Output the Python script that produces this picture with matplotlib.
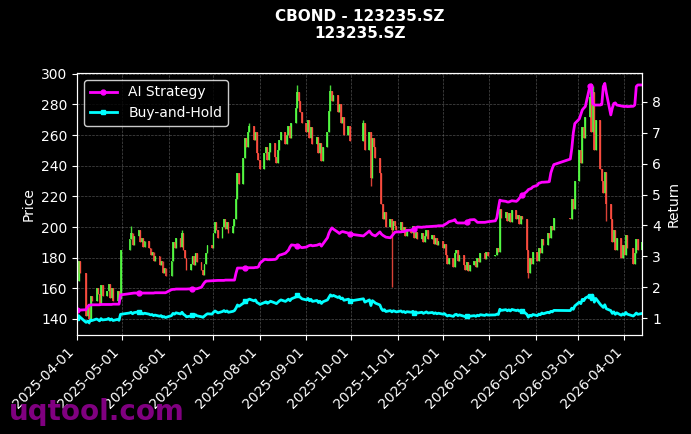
import numpy as np
import pandas as pd
import matplotlib
matplotlib.use('Agg')
import matplotlib.pyplot as plt
import matplotlib.dates as mdates

# exchange holidays (no candles on these days)
holidays = ['2025-04-04', '2025-05-01', '2025-05-02', '2025-05-05', '2025-06-02',
            '2025-10-01', '2025-10-02', '2025-10-03', '2025-10-06', '2025-10-07', '2025-10-08',
            '2026-01-01', '2026-01-02', '2026-02-16', '2026-02-17', '2026-02-18',
            '2026-02-19', '2026-02-20', '2026-02-23', '2026-04-06']
dates = pd.bdate_range('2025-04-01', '2026-04-13').difference(pd.to_datetime(holidays))

# daily closes, month by month
close_2504 = [165, 178, 170, 142, 148, 140, 155, 152, 160, 156, 150, 162, 155, 158, 163, 154, 160, 152, 158, 153, 185]
close_2505 = [192, 196, 188, 194, 198, 190, 193, 187, 191, 186, 182, 184, 178, 181, 175, 178, 170, 173, 168]
close_2506 = [178, 190, 186, 193, 187, 196, 185, 180, 172, 176, 181, 175, 183, 177, 172, 169, 176, 183, 188, 186]
close_2507 = [196, 203, 198, 193, 200, 205, 199, 203, 196, 201, 205, 218, 235, 228, 245, 258, 252, 262, 266, 257,
              262, 248, 244]
close_2508 = [238, 248, 252, 244, 249, 255, 246, 242, 250, 257, 262, 254, 260, 266, 258, 268, 278, 288, 282, 275, 268]
close_2509 = [262, 270, 258, 265, 254, 259, 248, 255, 243, 252, 262, 276, 289, 282, 286, 275, 280, 268, 272, 260,
              266, 256]
close_2510 = [268, 250, 262, 232, 258, 252, 245, 235, 215, 205, 210, 200, 205, 198, 204, 201, 198]
close_2511 = [203, 197, 200, 194, 199, 196, 201, 193, 197, 192, 196, 190, 194, 198, 192, 195, 189, 193, 188, 191]
close_2512 = [186, 189, 182, 176, 180, 174, 183, 185, 178, 182, 175, 172, 177, 171, 175, 178, 174, 180, 177, 183,
              179, 184, 181]
close_2601 = [182, 186, 184, 212, 206, 210, 204, 209, 203, 211, 205, 208, 202, 207, 205, 185, 170, 180, 176, 184]
close_2602 = [178, 186, 183, 192, 188, 196, 193, 201, 198, 206, 205, 218, 212, 230]
close_2603 = [250, 242, 265, 258, 272, 285, 262, 288, 250, 270, 238, 230, 222, 236, 215, 205, 190, 198, 185, 193,
              180, 188]
close_2604 = [182, 195, 186, 176, 183, 192, 185, 190]
first_open = 178

wick_high = {'2025-08-26': 293, '2025-09-17': 293, '2025-07-25': 268, '2026-03-11': 292, '2026-03-09': 290,
             '2025-05-07': 201, '2025-06-10': 198, '2025-10-09': 270}
wick_low = {'2025-10-28': 161, '2026-01-27': 167, '2026-03-20': 204, '2025-04-09': 137, '2025-10-14': 227}

# AI strategy cumulative return
ai_2504 = [1.26, 1.27, 1.26, 1.27, 1.36, 1.42, 1.42, 1.43, 1.43, 1.43, 1.43, 1.44, 1.44, 1.44, 1.44, 1.44, 1.44,
           1.45, 1.45, 1.45, 1.75]
ai_2505 = [1.79, 1.80, 1.80, 1.81, 1.81, 1.81, 1.81, 1.81, 1.81, 1.81, 1.81, 1.81, 1.81, 1.82, 1.82, 1.82, 1.82,
           1.82, 1.82]
ai_2506 = [1.92, 1.93, 1.93, 1.94, 1.94, 1.94, 1.94, 1.94, 1.94, 1.95, 1.95, 1.95, 1.95, 1.95, 2.00, 2.08, 2.15,
           2.20, 2.20, 2.21]
ai_2507 = [2.21, 2.22, 2.22, 2.22, 2.22, 2.22, 2.23, 2.23, 2.23, 2.23, 2.23, 2.45, 2.62, 2.62, 2.62, 2.63, 2.63,
           2.63, 2.63, 2.63, 2.64, 2.64, 2.66]
ai_2508 = [2.78, 2.90, 2.90, 2.89, 2.89, 2.89, 2.90, 2.92, 3.00, 3.04, 3.05, 3.10, 3.15, 3.20, 3.30, 3.37, 3.35,
           3.32, 3.34, 3.30, 3.28]
ai_2509 = [3.30, 3.33, 3.35, 3.36, 3.34, 3.36, 3.38, 3.40, 3.33, 3.40, 3.60, 3.75, 3.85, 3.92, 3.88, 3.78, 3.74,
           3.78, 3.80, 3.79, 3.75, 3.72]
ai_2510 = [3.66, 3.70, 3.82, 3.75, 3.70, 3.68, 3.66, 3.79, 3.72, 3.68, 3.65, 3.62, 3.60, 3.66, 3.72, 3.78, 3.79]
ai_2511 = [3.79, 3.80, 3.80, 3.82, 3.84, 3.85, 3.86, 3.88, 3.92, 3.95, 3.94, 3.95, 3.95, 3.96, 3.96, 3.97, 3.97,
           3.98, 3.98, 3.99]
ai_2512 = [3.99, 4.02, 4.05, 4.08, 4.12, 4.16, 4.19, 4.10, 4.08, 4.08, 4.08, 4.08, 4.10, 4.15, 4.18, 4.19, 4.15,
           4.10, 4.10, 4.10, 4.10, 4.11, 4.12]
ai_2601 = [4.15, 4.25, 4.55, 4.82, 4.80, 4.78, 4.76, 4.76, 4.78, 4.80, 4.78, 4.82, 4.88, 4.95, 4.98, 5.10, 5.16,
           5.18, 5.20, 5.25]
ai_2602 = [5.30, 5.37, 5.38, 5.40, 5.40, 5.41, 5.42, 5.70, 5.85, 5.97, 6.15, 6.50, 7.00, 7.30]
ai_2603 = [7.45, 7.60, 7.74, 7.80, 7.85, 8.50, 8.55, 7.95, 7.90, 7.90, 7.90, 7.92, 8.50, 8.60, 8.30, 7.58, 7.80,
           7.95, 7.97, 7.90, 7.87, 7.86]
ai_2604 = [7.85, 7.86, 7.85, 7.86, 7.90, 8.50, 8.55, 8.55]

close = np.array(close_2504 + close_2505 + close_2506 + close_2507 + close_2508 + close_2509 + close_2510
                 + close_2511 + close_2512 + close_2601 + close_2602 + close_2603 + close_2604, dtype=float)
ai_return = np.array(ai_2504 + ai_2505 + ai_2506 + ai_2507 + ai_2508 + ai_2509 + ai_2510 + ai_2511
                     + ai_2512 + ai_2601 + ai_2602 + ai_2603 + ai_2604)

opens = np.r_[first_open, close[:-1]]
highs = np.maximum(opens, close)
lows = np.minimum(opens, close)
for d, v in wick_high.items():
    highs[dates.get_loc(pd.Timestamp(d))] = v
for d, v in wick_low.items():
    lows[dates.get_loc(pd.Timestamp(d))] = v

bh_return = close / close[0]

fig = plt.figure(figsize=(6.91, 4.34), dpi=100, facecolor='black')
ax = fig.add_axes([0.1115, 0.228, 0.818, 0.604])
ax.set_facecolor('black')

# candles
up = close >= opens
col = np.where(up, '#55ff44', '#ff4d40')
ax.vlines(dates, lows, highs, colors=col, linewidth=1.0, alpha=0.85)
body = np.maximum(np.abs(close - opens), 0.4)
ax.bar(dates, body, bottom=np.minimum(opens, close), width=1.3, color=col, alpha=0.85)

ax.set_ylim(129.5, 300.6)
ax.set_xlim(dates[0], dates[-1])
ax.set_ylabel('Price', color='white', fontsize=10)
ax.grid(True, color='gray', linestyle='--', linewidth=0.5, alpha=0.6)
ax.set_axisbelow(True)

ax2 = ax.twinx()
ax2.plot(dates, ai_return, color='magenta', linewidth=2, marker='o', markersize=3.5, markevery=25,
         label='AI Strategy')
ax2.plot(dates, bh_return, color='cyan', linewidth=2, marker='s', markersize=3.5, markevery=25,
         label='Buy-and-Hold')
ax2.set_ylim(0.45, 8.94)
ax2.set_ylabel('Return', color='white', fontsize=10)

ax.xaxis.set_major_locator(mdates.MonthLocator())
ax.xaxis.set_major_formatter(mdates.DateFormatter('%Y-%m-%d'))
plt.setp(ax.get_xticklabels(), rotation=45, ha='right')

for a in (ax, ax2):
    a.tick_params(colors='white', labelsize=10)
    for s in a.spines.values():
        s.set_color('white')

leg = ax2.legend(loc='upper left', facecolor='black', edgecolor='white', labelcolor='white', fontsize=10)

ax.set_title('CBOND - 123235.SZ\n123235.SZ', color='white', fontsize=11, fontweight='bold', pad=25)

fig.text(0.013, 0.033, 'uqtool.com', fontsize=20, fontweight='bold', color='purple', va='baseline')

fig.savefig('out.png', dpi=100, facecolor='black')
